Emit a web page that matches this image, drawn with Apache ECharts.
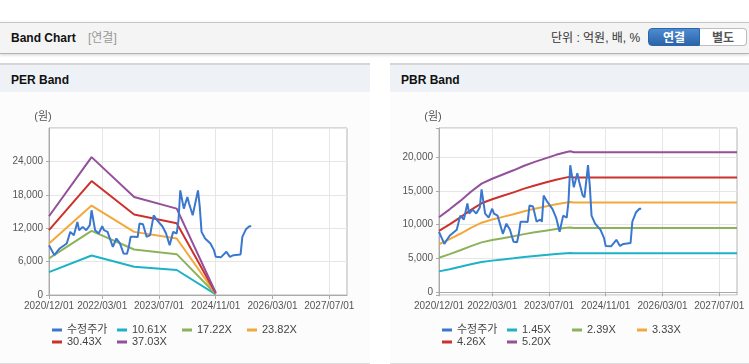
<!DOCTYPE html>
<html><head><meta charset="utf-8">
<script src="https://cdn.jsdelivr.net/npm/echarts@6/dist/echarts.min.js"></script>
<style>
html,body{margin:0;padding:0}
body{width:749px;height:364px;overflow:hidden;background:#fff;position:relative;font-family:"Liberation Sans","Noto Sans CJK KR",sans-serif}
.abs{position:absolute}
.topbar{left:0;top:22px;width:749px;height:30px;background:#f4f4f4;border-top:1px solid #c6c6c6;border-bottom:1px solid #b4b4b4;box-shadow:0 1px 3px rgba(0,0,0,0.18)}
.ttl{font-weight:bold;font-size:12px;line-height:16px;color:#111}
.sub{font-size:12px;line-height:16px;color:#999}
.unit{font-size:12px;line-height:16px;color:#333}
.btn{top:28px;height:18px;font-size:12px;font-weight:bold;line-height:18px;text-align:center;box-sizing:border-box}
.b1{left:648px;width:52px;background:linear-gradient(#4d8bd2,#2b64a8);color:#fff;border:1px solid #2d66a8;border-radius:4px 0 0 4px}
.b2{left:700px;width:47px;background:#fff;color:#555;border:1px solid #bdbdbd;border-left:none;border-radius:0 4px 4px 0}
.panel{top:63px;height:298px;background:#fcfcfc;border-top:2px solid #d6d6d6;border-bottom:1px solid #dcdcdc}
.phead{left:0;top:0;right:0;height:27px;background:#eef2f7}
.chart{top:92px;height:270px}
</style>
</head><body>
<div class="abs topbar"></div>
<div class="abs ttl" style="left:11px;top:30px">Band Chart</div>
<div class="abs sub" style="left:88px;top:30px">[연결]</div>
<div class="abs unit" style="left:551px;top:30px">단위 : 억원, 배, %</div>
<div class="abs btn b1">연결</div>
<div class="abs btn b2">별도</div>

<div class="abs panel" style="left:0;width:370px"><div class="abs phead"></div></div>
<div class="abs panel" style="left:390px;width:359px"><div class="abs phead"></div></div>
<div class="abs ttl" style="left:11px;top:72px">PER Band</div>
<div class="abs ttl" style="left:401px;top:72px">PBR Band</div>

<div id="per" class="abs chart" style="left:0;width:370px"></div>
<div id="pbr" class="abs chart" style="left:390px;width:359px"></div>

<script>
// ---- categories (semi-monthly) ----
const categories = [];
(function(){
  let y = 2020, mo = 12;
  while (true) {
    const mm = String(mo).padStart(2, '0');
    categories.push(y + '/' + mm + '/01');
    if (y === 2027 && mo === 12) break;
    categories.push(y + '/' + mm + '/16');
    mo++; if (mo > 12) { mo = 1; y++; }
  }
})();
const tickLabels = ['2020/12/01','2022/03/01','2023/07/01','2024/11/01','2026/03/01','2027/07/01'];

// ---- price (수정주가) ----
const priceDates = ['2020/12/01','2021/01/16','2021/03/01','2021/05/01','2021/06/01','2021/07/01','2021/08/01','2021/08/16','2021/09/16','2021/10/16','2021/11/16','2021/12/01','2022/01/01','2022/02/01','2022/03/01','2022/03/16','2022/04/16','2022/05/01','2022/06/01','2022/07/01','2022/08/01','2022/09/01','2022/10/01','2022/10/16','2022/11/01','2022/12/01','2023/01/01','2023/01/16','2023/02/16','2023/03/16','2023/04/16','2023/05/01','2023/05/16','2023/06/16','2023/07/01','2023/08/01','2023/09/01','2023/10/01','2023/11/01','2023/12/01','2023/12/16','2024/01/01','2024/02/01','2024/03/01','2024/03/16','2024/04/16','2024/05/01','2024/06/01','2024/06/16','2024/07/01','2024/08/01','2024/09/16','2024/10/16','2024/11/01','2024/12/16','2025/02/01','2025/03/01','2025/04/01','2025/06/01','2025/06/16','2025/07/16','2025/08/16','2025/09/01'];
const priceValues = [8950,7160,8360,9260,11340,10750,13130,11640,12240,11640,12540,15220,11640,11050,12360,11640,11340,10450,8650,10150,9260,7470,7400,8650,10450,10450,10400,12840,12700,10450,10750,10450,14300,13400,13600,12300,11050,8950,11340,11050,13430,18800,15520,17600,16400,14330,14030,18800,15820,11340,10150,9260,8060,6860,6800,7760,6860,7160,7290,10450,11800,12360,12360];

// ---- PER bands ----
const perBandDates = ['2020/12/01','2021/12/01','2022/12/01','2023/12/01','2024/11/01'];
const per1061 = [4100, 7100, 5060, 4490, 120];
const per1722 = [6570, 11520, 8180, 7340, 190];
const per2382 = [9260, 16060, 11340, 10150, 260];
const per3043 = [11640, 20470, 14450, 12900, 330];
const per3703 = [14150, 24770, 17600, 15520, 410];

// ---- PBR bands ----
const pbrBandDates = ['2020/12/01','2021/03/01','2021/06/01','2021/09/01','2021/12/01','2022/03/01','2022/06/01','2022/09/01','2022/12/01','2023/03/01','2023/06/01','2023/09/01','2023/12/01','2024/01/01','2024/02/01','2027/12/01'];
const pbr145 = [3096,3422,3770,4147,4481,4684,4858,5032,5220,5380,5525,5670,5786,5815,5778,5778];
const pbr239 = [5103,5640,6214,6835,7385,7720,8007,8293,8604,8867,9106,9345,9536,9584,9524,9524];
const pbr333 = [7110,7859,8658,9524,10290,10756,11156,11555,11988,12354,12687,13020,13287,13353,13270,13270];
const pbr426 = [9095,10054,11076,12184,13163,13760,14271,14782,15336,15805,16231,16657,16997,17083,16976,16976];
const pbr520 = [11102,12272,13520,14872,16068,16796,17420,18044,18720,19292,19812,20332,20748,20852,20722,20722];

const perNames = ['수정주가','10.61X','17.22X','23.82X','30.43X','37.03X'];
const pbrNames = ['수정주가','1.45X','2.39X','3.33X','4.26X','5.20X'];
const colors = ['#3a78cf','#1db3c6','#8db35a','#f3a83b','#cc312c','#94509b'];

function zip(d, v) { return d.map((x, i) => [x, v[i]]); }
function fmt(v) { return String(v).replace(/\B(?=(\d{3})+(?!\d))/g, ','); }
const isTick = (idx, val) => tickLabels.indexOf(val) >= 0;

function build(names, bandDates, bands, yAxisCfg, gridRight) {
  const series = [{
    name: names[0], type: 'line', data: zip(priceDates, priceValues), symbol: 'none',
    lineStyle: { width: 2, color: colors[0] }, itemStyle: { color: colors[0] }, z: 5
  }];
  bands.forEach((b, i) => series.push({
    name: names[i + 1], type: 'line', data: zip(bandDates, b), symbol: 'none',
    lineStyle: { width: 2, color: colors[i + 1] }, itemStyle: { color: colors[i + 1] }, z: 3
  }));
  return {
    animation: false,
    textStyle: { fontFamily: '"Liberation Sans","Noto Sans CJK KR",sans-serif' },
    grid: { left: 49, right: gridRight, top: 36, bottom: 67, show: true, borderColor: '#b4b4b4', borderWidth: 1, backgroundColor: '#fff' },
    legend: {
      left: 52, top: 232, width: 268, padding: 0, itemGap: 0, itemWidth: 10, itemHeight: 3, icon: 'rect',
      textStyle: { fontSize: 11, color: '#444', width: 50, lineHeight: 12 },
      data: names
    },
    xAxis: {
      type: 'category', data: categories, boundaryGap: false,
      axisLine: { lineStyle: { color: '#aaaaaa' } },
      axisTick: { show: true, interval: isTick, length: 4, lineStyle: { color: '#aaaaaa' } },
      axisLabel: { interval: isTick, fontSize: 10, color: '#555', margin: 6 },
      splitLine: { show: true, interval: isTick, lineStyle: { color: '#e6e6e6' } }
    },
    yAxis: Object.assign({
      type: 'value', name: '(원)', nameLocation: 'end', nameGap: 6,
      nameTextStyle: { fontSize: 11, color: '#555', align: 'center', padding: [0, 12, 0, 0] },
      axisLine: { show: true, lineStyle: { color: '#aaaaaa' } },
      axisTick: { show: true, length: 3, lineStyle: { color: '#aaaaaa' } },
      splitLine: { lineStyle: { color: '#e6e6e6' } }
    }, yAxisCfg),
    series: series
  };
}

const perChart = echarts.init(document.getElementById('per'));
perChart.setOption(build(perNames, perBandDates, [per1061, per1722, per2382, per3043, per3703], {
  min: 0, max: 30000, interval: 6000,
  axisLabel: { fontSize: 10, color: '#555', margin: 6, showMaxLabel: false, formatter: v => (v >= 30000 ? '' : fmt(v)) }
}, 23));

const pbrChart = echarts.init(document.getElementById('pbr'));
pbrChart.setOption(build(pbrNames, pbrBandDates, [pbr145, pbr239, pbr333, pbr426, pbr520], {
  min: -400, max: 24300, splitNumber: 5,
  axisLabel: { fontSize: 10, color: '#555', margin: 6, formatter: v => (v % 5000 === 0 ? fmt(v) : '') }
}, 12));
</script>
</body></html>
